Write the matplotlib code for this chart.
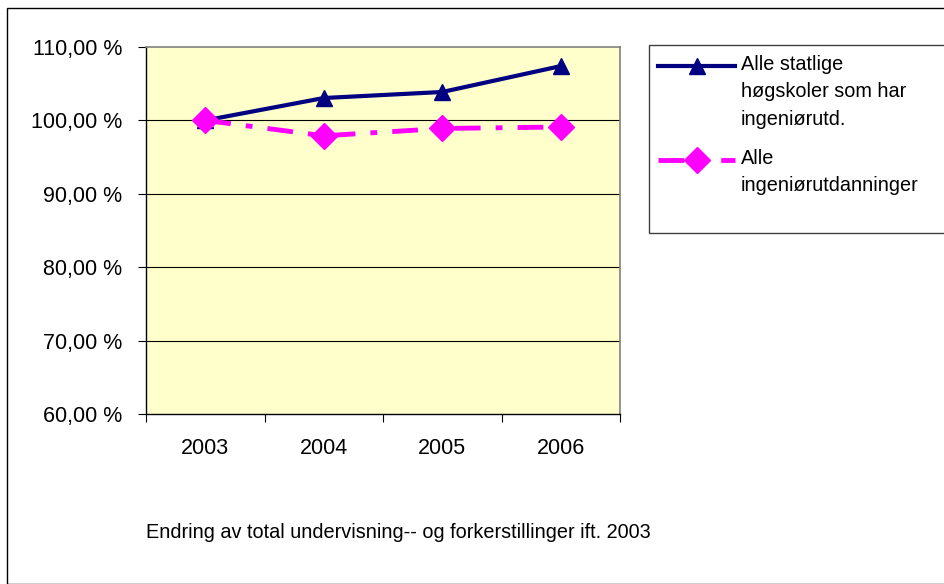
import numpy as np
import matplotlib.pyplot as plt
from matplotlib.lines import Line2D
from matplotlib.patches import Rectangle

plt.rcParams['font.family'] = ['Liberation Sans', 'DejaVu Sans']

years = ['2003', '2004', '2005', '2006']
hogskoler = [100.0, 103.05, 103.87, 107.4]
ingenior = [100.0, 97.9, 98.9, 99.1]
label_hog = 'Alle statlige\nhøgskoler som har\ningeniørutd.'
label_ing = 'Alle\ningeniørutdanninger'
caption = 'Endring av total undervisning-- og forkerstillinger ift. 2003'

navy = '#000080'
pink = '#FF00FF'
pink_dash = (5.3, 3.1, 1.4, 3.1)

fig = plt.figure(figsize=(9.44, 5.84), dpi=100)
fig.patch.set_facecolor('white')
W, H = 944, 584

# outer chart border
fig.add_artist(Rectangle((7 / W, 0), 1.2, 1 - 8 / H, transform=fig.transFigure,
                         fill=False, edgecolor='black', lw=1.0, clip_on=False))

ax = fig.add_axes([146 / W, 1 - 414 / H, 474 / W, 367 / H])
ax.set_facecolor('#FFFFCC')
x = np.arange(len(years))

for y in [70, 80, 90, 100]:
    ax.axhline(y, color='black', lw=0.8, zorder=1)

ax.plot(x, hogskoler, color=navy, lw=3, marker='^', ms=11, zorder=3)
ax.plot(x, ingenior, color=pink, lw=3.5, marker='D', ms=13, zorder=4,
        dashes=pink_dash)

ax.set_xlim(-0.5, len(years) - 0.5)
ax.set_ylim(60, 110)
ax.set_yticks(np.arange(60, 111, 10))
ax.set_yticklabels([f'{v},00 %' for v in range(60, 111, 10)])
ax.set_xticks(np.arange(-0.5, len(years), 1.0))
ax.set_xticklabels([])
ax.set_xticks(x, minor=True)
ax.set_xticklabels(years, minor=True)
ax.tick_params(axis='x', which='major', length=6, direction='out', color='black')
ax.tick_params(axis='x', which='minor', length=0, pad=17, labelsize=15.5)
ax.tick_params(axis='y', length=6, direction='out', pad=11, labelsize=15.5)

for side in ['top', 'right']:
    ax.spines[side].set_color('#808080')
    ax.spines[side].set_linewidth(1.2)
for side in ['left', 'bottom']:
    ax.spines[side].set_color('black')
    ax.spines[side].set_linewidth(1.0)

# legend
fig.add_artist(Rectangle((649 / W, 1 - 233 / H), 1.0, 188 / H, transform=fig.transFigure,
                         fill=False, edgecolor='#404040', lw=1.0, clip_on=False))
fig.add_artist(Line2D([658 / W, 735 / W], [1 - 66 / H, 1 - 66 / H], transform=fig.transFigure,
                      color=navy, lw=3))
fig.add_artist(Line2D([696.5 / W], [1 - 66 / H], transform=fig.transFigure,
                      color=navy, marker='^', ms=11, lw=0))
fig.add_artist(Line2D([658 / W, 735 / W], [1 - 160 / H, 1 - 160 / H], transform=fig.transFigure,
                      color=pink, lw=3.5, dashes=pink_dash))
fig.add_artist(Line2D([696.5 / W], [1 - 160 / H], transform=fig.transFigure,
                      color=pink, marker='D', ms=13, lw=0))
fig.text(741 / W, 1 - 55 / H, label_hog, fontsize=14.3, va='top', ha='left', linespacing=1.56)
fig.text(741 / W, 1 - 149 / H, label_ing, fontsize=14.3, va='top', ha='left', linespacing=1.56)

fig.text(146 / W, 1 - 532 / H, caption, fontsize=14.3, va='center', ha='left')

fig.savefig('out.png', dpi=100)
